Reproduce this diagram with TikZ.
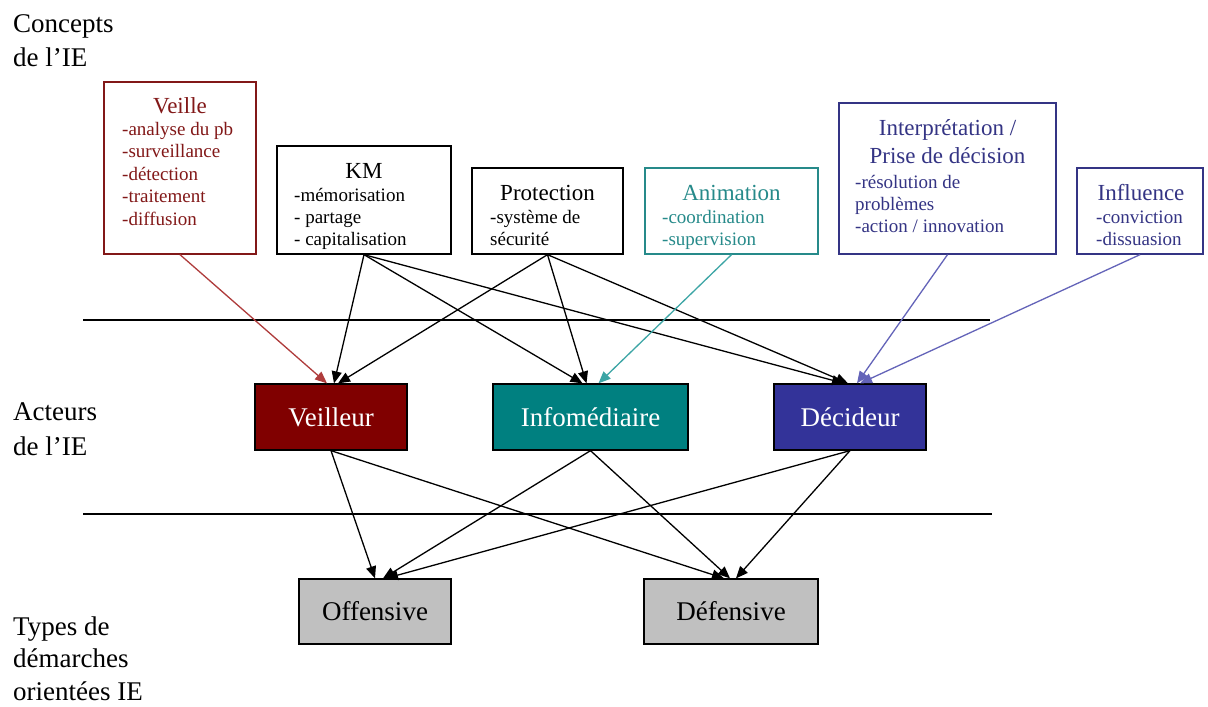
\documentclass[tikz,border=0pt]{standalone}
\usepackage{fontspec}
\setmainfont{Liberation Serif}
\usetikzlibrary{arrows.meta}
\definecolor{vfill}{RGB}{128,0,0}
\definecolor{vline}{RGB}{130,24,24}
\definecolor{varrow}{RGB}{175,60,60}
\definecolor{tfill}{RGB}{0,128,128}
\definecolor{tline}{RGB}{38,138,138}
\definecolor{tarrow}{RGB}{60,165,165}
\definecolor{bfill}{RGB}{51,51,153}
\definecolor{bline}{RGB}{52,52,132}
\definecolor{barrow}{RGB}{100,100,185}
\definecolor{gfill}{RGB}{192,192,192}
\tikzset{
  sidelabel/.style={anchor=base west, inner sep=0pt, font=\fontsize{27}{31}\selectfont},
  conceptbox/.style={draw=#1, line width=1.3pt, inner sep=0pt},
  hdr/.style={anchor=base, inner sep=0pt, text=#1, font=\fontsize{23}{27}\selectfont},
  itm/.style={anchor=base west, inner sep=0pt, text=#1, font=\fontsize{19}{22}\selectfont},
  actor/.style={draw=black, line width=1.3pt, fill=#1, text=white, inner sep=0pt, font=\fontsize{27}{31}\selectfont},
  demarche/.style={draw=black, line width=1.3pt, fill=gfill, text=black, inner sep=0pt, font=\fontsize{27}{31}\selectfont},
  conn/.style={draw=#1, line width=1.3pt, -{Triangle[length=12pt,width=10pt]}},
  sepline/.style={draw=black, line width=1.3pt}
}
\begin{document}
\begin{tikzpicture}[x=1pt,y=-1pt]
\useasboundingbox[fill=white] (0,0) rectangle (1208,707);

% side labels
\node[sidelabel] (l1) at (13,32) {Concepts};
\node[sidelabel] (l2) at (13,66) {de l’IE};
\node[sidelabel] (l3) at (13,420) {Acteurs};
\node[sidelabel] (l4) at (13,455) {de l’IE};
\node[sidelabel] (l5) at (13,635) {Types de};
\node[sidelabel] (l6) at (13,667) {démarches};
\node[sidelabel] (l7) at (13,700) {orientées IE};

% separator lines
\coordinate (s1a) at (83,320);
\coordinate (s1b) at (990,320);
\coordinate (s2a) at (83,514);
\coordinate (s2b) at (992,514);
\draw[sepline] (s1a) -- (s1b);
\draw[sepline] (s2a) -- (s2b);

% concept boxes
\node[conceptbox=vline, minimum width=152pt, minimum height=172pt] (veille) at (180,168) {};
\node[hdr=vline] (veilleH) at (180,113) {Veille};
\node[itm=vline] (v1) at (122,135) {-analyse du pb};
\node[itm=vline] (v2) at (122,157) {-surveillance};
\node[itm=vline] (v3) at (122,180) {-détection};
\node[itm=vline] (v4) at (122,202) {-traitement};
\node[itm=vline] (v5) at (122,225) {-diffusion};

\node[conceptbox=black, minimum width=174pt, minimum height=108pt] (km) at (364,200) {};
\node[hdr=black] (kmH) at (364,178) {KM};
\node[itm=black] (k1) at (294,201) {-mémorisation};
\node[itm=black] (k2) at (294,223) {- partage};
\node[itm=black] (k3) at (294,245) {- capitalisation};

\node[conceptbox=black, minimum width=151pt, minimum height=86pt] (prot) at (547.5,211) {};
\node[hdr=black] (protH) at (547.5,200) {Protection};
\node[itm=black] (p1) at (490,223) {-système de};
\node[itm=black] (p2) at (490,245) {sécurité};

\node[conceptbox=tline, minimum width=173pt, minimum height=86pt] (anim) at (731.5,211) {};
\node[hdr=tline] (animH) at (731.5,200) {Animation};
\node[itm=tline] (a1) at (662,223) {-coordination};
\node[itm=tline] (a2) at (662,245) {-supervision};

\node[conceptbox=bline, minimum width=217pt, minimum height=151pt] (interp) at (947.5,178.5) {};
\node[hdr=bline] (iH1) at (947.5,135) {Interprétation /};
\node[hdr=bline] (iH2) at (947.5,163) {Prise de décision};
\node[itm=bline] (i1) at (855,188) {-résolution de};
\node[itm=bline] (i2) at (855,210) {problèmes};
\node[itm=bline] (i3) at (855,232) {-action / innovation};

\node[conceptbox=bline, minimum width=126pt, minimum height=86pt] (infl) at (1140,211) {};
\node[hdr=bline] (inflH) at (1141,200) {Influence};
\node[itm=bline] (f1) at (1096,223) {-conviction};
\node[itm=bline] (f2) at (1096,245) {-dissuasion};

% actors
\node[actor=vfill, minimum width=152pt, minimum height=66pt] (veilleur) at (331,417) {Veilleur};
\node[actor=tfill, minimum width=195pt, minimum height=66pt] (info) at (590.5,417) {Infomédiaire};
\node[actor=bfill, minimum width=152pt, minimum height=66pt] (dec) at (850,417) {Décideur};

% demarches
\node[demarche, minimum width=152pt, minimum height=65pt] (off) at (375,611.5) {Offensive};
\node[demarche, minimum width=174pt, minimum height=65pt] (def) at (731,611.5) {Défensive};

% connectors concepts -> actors
\draw[conn=varrow] (veille.south) -- ([xshift=-4pt]veilleur.north);
\draw[conn=black] (km.south) -- ([xshift=3pt]veilleur.north);
\draw[conn=black] (km.south) -- ([xshift=-8pt]info.north);
\draw[conn=black] (km.south) -- ([xshift=-6pt]dec.north);
\draw[conn=black] (prot.south) -- ([xshift=7pt]veilleur.north);
\draw[conn=black] (prot.south) -- ([xshift=-4pt]info.north);
\draw[conn=black] (prot.south) -- ([xshift=-2pt]dec.north);
\draw[conn=tarrow] (anim.south) -- ([xshift=8pt]info.north);
\draw[conn=barrow] (interp.south) -- ([xshift=7pt]dec.north);
\draw[conn=barrow] (infl.south) -- ([xshift=10pt]dec.north);

% connectors actors -> demarches
\draw[conn=black] (veilleur.south) -- ([xshift=0pt]off.north);
\draw[conn=black] (veilleur.south) -- ([xshift=-7pt]def.north);
\draw[conn=black] (info.south) -- ([xshift=8pt]off.north);
\draw[conn=black] (info.south) -- ([xshift=-1pt]def.north);
\draw[conn=black] (dec.south) -- ([xshift=11pt]off.north);
\draw[conn=black] (dec.south) -- ([xshift=5pt]def.north);
\end{tikzpicture}
\end{document}
